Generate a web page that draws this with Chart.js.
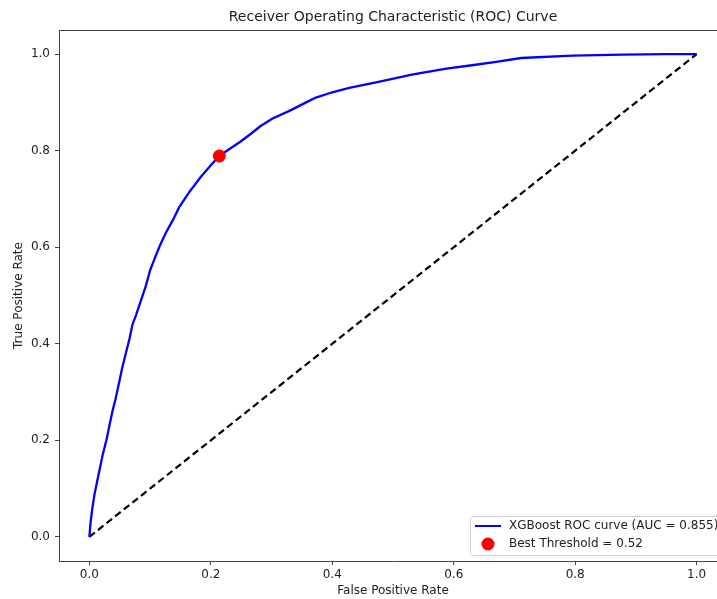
<!DOCTYPE html>
<html>
<head>
<meta charset="utf-8">
<script src="https://cdn.jsdelivr.net/npm/chart.js@4.4.1/dist/chart.umd.min.js"></script>
<style>
  html, body { margin: 0; padding: 0; background: #fff; overflow: hidden; }
  #rocChart { display: block; }
</style>
</head>
<body>
<canvas id="rocChart" width="740" height="599"></canvas>
<script>
/*VERILER*/
var fprDegerleri = [0, 0.002, 0.005, 0.008, 0.012, 0.017, 0.022, 0.028, 0.033, 0.038,
  0.043, 0.049, 0.054, 0.060, 0.066, 0.071, 0.077, 0.085, 0.093, 0.100,
  0.108, 0.116, 0.126, 0.137, 0.148, 0.165, 0.183, 0.200, 0.214, 0.230,
  0.248, 0.265, 0.282, 0.301, 0.332, 0.352, 0.373, 0.400, 0.428, 0.478,
  0.533, 0.588, 0.630, 0.670, 0.711, 0.796, 0.878, 0.950, 1.0];
var tprDegerleri = [0, 0.03, 0.06, 0.085, 0.11, 0.14, 0.17, 0.2, 0.23, 0.26,
  0.285, 0.32, 0.35, 0.38, 0.41, 0.44, 0.46, 0.49, 0.52, 0.552,
  0.578, 0.603, 0.63, 0.655, 0.683, 0.715, 0.745, 0.77, 0.789, 0.803,
  0.818, 0.834, 0.851, 0.866, 0.884, 0.897, 0.910, 0.921, 0.930, 0.943,
  0.958, 0.970, 0.977, 0.984, 0.992, 0.997, 0.999, 1.0, 1.0];
var rastgeleX = [0, 1];
var rastgeleY = [0, 1];
var enIyiEsik = { x: 0.214, y: 0.789 };
var eksenTikleri = [0, 0.2, 0.4, 0.6, 0.8, 1.0];
var baslik = "Receiver Operating Characteristic (ROC) Curve";
var etiketEgri = "XGBoost ROC curve (AUC = 0.855)";
var etiketEsik = "Best Threshold = 0.52";
/*VERILER*/

var yaziTipi = "'DejaVu Sans', sans-serif";
var yaziRengi = "#222";
var cizgiRengi = "#444";

function noktalar(xler, yler) {
  var liste = [];
  for (var i = 0; i < xler.length; i++) {
    liste.push({ x: xler[i], y: yler[i] });
  }
  return liste;
}

/*BASLIK, CERCEVE VE LEGEND*/
var ekCizimler = {
  id: "ekCizimler",
  afterDraw: function (chart) {
    var ctx = chart.ctx;
    var alan = chart.chartArea;
    ctx.save();

    // ust cerceve
    ctx.strokeStyle = cizgiRengi;
    ctx.lineWidth = 1;
    ctx.beginPath();
    ctx.moveTo(alan.left, alan.top + 0.5);
    ctx.lineTo(alan.right, alan.top + 0.5);
    ctx.stroke();

    // baslik
    ctx.fillStyle = yaziRengi;
    ctx.font = "14px " + yaziTipi;
    ctx.textAlign = "center";
    ctx.textBaseline = "middle";
    ctx.fillText(baslik, (alan.left + alan.right) / 2, 17);

    // legend kutusu
    var kx = 470, ky = 516, kw = 256, kh = 39, r = 3;
    ctx.fillStyle = "rgba(255,255,255,0.85)";
    ctx.strokeStyle = "#d0d0d0";
    ctx.beginPath();
    ctx.moveTo(kx + r, ky + 0.5);
    ctx.lineTo(kx + kw - r, ky + 0.5);
    ctx.arcTo(kx + kw, ky + 0.5, kx + kw, ky + r, r);
    ctx.lineTo(kx + kw, ky + kh - r);
    ctx.arcTo(kx + kw, ky + kh + 0.5, kx + kw - r, ky + kh + 0.5, r);
    ctx.lineTo(kx + r, ky + kh + 0.5);
    ctx.arcTo(kx + 0.5, ky + kh + 0.5, kx + 0.5, ky + kh - r, r);
    ctx.lineTo(kx + 0.5, ky + r);
    ctx.arcTo(kx + 0.5, ky + 0.5, kx + r, ky + 0.5, r);
    ctx.closePath();
    ctx.fill();
    ctx.stroke();

    ctx.strokeStyle = "#0000ff";
    ctx.lineWidth = 2;
    ctx.beginPath();
    ctx.moveTo(475, 526);
    ctx.lineTo(501, 526);
    ctx.stroke();

    ctx.fillStyle = "#ff0000";
    ctx.beginPath();
    ctx.arc(488, 544, 6.5, 0, Math.PI * 2);
    ctx.fill();

    ctx.fillStyle = yaziRengi;
    ctx.font = "12px " + yaziTipi;
    ctx.textAlign = "left";
    ctx.fillText(etiketEgri, 509, 526);
    ctx.fillText(etiketEsik, 509, 544);

    ctx.restore();
  }
};

function eksenAyari(baslikYazisi, yatayMi) {
  var ayar = {
    type: "linear",
    min: -0.05,
    max: 1.05,
    afterBuildTicks: function (s) {
      s.ticks = eksenTikleri.map(function (v) { return { value: v }; });
    },
    ticks: {
      color: yaziRengi,
      font: { family: yaziTipi, size: 12 },
      padding: yatayMi ? 3 : 5,
      maxRotation: 0,
      autoSkip: false,
      callback: function (v) { return Number(v).toFixed(1); }
    },
    grid: {
      drawOnChartArea: false,
      drawTicks: true,
      tickLength: 4,
      color: cizgiRengi
    },
    border: { display: true, color: cizgiRengi, width: 1 },
    title: {
      display: true,
      text: baslikYazisi,
      color: yaziRengi,
      font: { family: yaziTipi, size: 12 },
      padding: yatayMi ? { top: 0, bottom: 1 } : { top: 12, bottom: 0 }
    }
  };
  if (yatayMi) {
    ayar.afterFit = function (s) { s.height = 38; };
  } else {
    ayar.afterFit = function (s) { s.width = 59; };
  }
  return ayar;
}

var ctx = document.getElementById("rocChart");
var rocGrafik = new Chart(ctx, {
  type: "scatter",
  data: {
    datasets: [{
      label: etiketEsik,
      data: [enIyiEsik],
      backgroundColor: "#ff0000",
      borderWidth: 0,
      pointRadius: 6.5,
      order: 0
    }, {
      label: etiketEgri,
      data: noktalar(fprDegerleri, tprDegerleri),
      showLine: true,
      borderColor: "#0000ff",
      borderWidth: 2.3,
      pointRadius: 0,
      tension: 0,
      order: 1
    }, {
      label: "Rastgele",
      data: noktalar(rastgeleX, rastgeleY),
      showLine: true,
      borderColor: "#000000",
      borderWidth: 2.2,
      borderDash: [7, 4],
      pointRadius: 0,
      order: 2
    }]
  },
  options: {
    responsive: false,
    animation: false,
    devicePixelRatio: 1,
    layout: { padding: { top: 30, right: 13, left: 0, bottom: 0 } },
    plugins: {
      legend: { display: false },
      tooltip: { enabled: false },
      title: { display: false }
    },
    scales: {
      x: eksenAyari("False Positive Rate", true),
      y: eksenAyari("True Positive Rate", false)
    }
  },
  plugins: [ekCizimler]
});
</script>
</body>
</html>
